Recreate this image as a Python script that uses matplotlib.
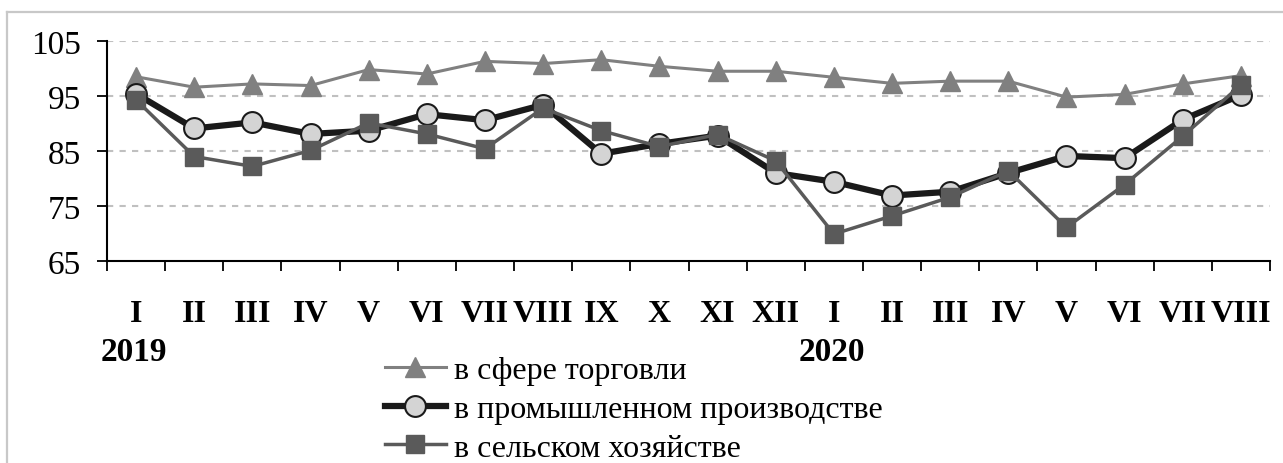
import matplotlib.pyplot as plt
from matplotlib.lines import Line2D

plt.rcParams['font.family'] = ['Liberation Serif', 'DejaVu Serif']

months = ['I', 'II', 'III', 'IV', 'V', 'VI', 'VII', 'VIII', 'IX', 'X', 'XI', 'XII',
          'I', 'II', 'III', 'IV', 'V', 'VI', 'VII', 'VIII']
years = ['2019', '2020']

trade = [98.5, 96.6, 97.2, 96.9, 99.8, 99.0, 101.3, 100.9, 101.6, 100.4, 99.5, 99.5,
         98.4, 97.3, 97.7, 97.7, 94.8, 95.3, 97.2, 98.7]
industry = [95.4, 89.1, 90.2, 88.1, 88.7, 91.7, 90.6, 93.4, 84.5, 86.3, 87.8, 81.0,
            79.4, 76.9, 77.6, 81.0, 84.1, 83.7, 90.7, 95.2]
agriculture = [94.3, 84.0, 82.2, 85.1, 90.1, 88.1, 85.4, 92.8, 88.7, 85.8, 88.0, 83.2,
               69.9, 73.2, 76.6, 81.4, 71.1, 78.9, 87.7, 97.0]

labels = ['в сфере торговли', 'в промышленном производстве', 'в сельском хозяйстве']

W, H = 1283, 464
fig = plt.figure(figsize=(W / 100, H / 100), dpi=100)
ax = fig.add_axes([107 / W, 1 - 262 / H, (1270 - 107) / W, (262 - 42) / H])

x = list(range(len(months)))
ax.plot(x, trade, color='#808080', lw=2.2, marker='^', ms=14,
        mfc='#808080', mec='#808080', zorder=3, label=labels[0])
ax.plot(x, industry, color='#1a1a1a', lw=4.5, marker='o', ms=15,
        mfc='#d4d4d4', mec='#1a1a1a', mew=1.5, zorder=4, label=labels[1])
ax.plot(x, agriculture, color='#5a5a5a', lw=2.5, marker='s', ms=13,
        mfc='#5a5a5a', mec='#5a5a5a', zorder=5, label=labels[2])

ax.set_xlim(-0.5, len(months) - 0.5)
ax.set_ylim(65, 105)
ax.set_yticks([65, 75, 85, 95, 105])
for v in [75, 85, 95, 105]:
    ax.axhline(v, color='#c0c0c0', lw=1.5, dashes=(3, 3), zorder=1)

ax.set_xticks([i - 0.5 for i in range(len(months) + 1)])
ax.set_xticklabels([])
ax.set_xticks(x, minor=True)
ax.set_xticklabels(months, minor=True, fontsize=23, fontweight='bold')
ax.tick_params(axis='x', which='major', direction='out', length=7.5, width=1.3)
ax.tick_params(axis='x', which='minor', length=0, pad=27)
ax.tick_params(axis='y', direction='out', length=7.5, width=1.3, labelsize=24, pad=11)

for s in ['top', 'right']:
    ax.spines[s].set_visible(False)
for s in ['left', 'bottom']:
    ax.spines[s].set_linewidth(1.5)

fig.text(134 / W, 1 - 353 / H, years[0], fontsize=24, fontweight='bold',
         ha='center', va='center')
fig.text(832 / W, 1 - 353 / H, years[1], fontsize=24, fontweight='bold',
         ha='center', va='center')

fig.legend(loc='center left', bbox_to_anchor=(385 / W, 1 - 410 / H),
           frameon=False, fontsize=23, handlelength=1.9, handletextpad=0.25,
           labelspacing=0.3, borderpad=0, borderaxespad=0)

# light frame around the chart
fig.add_artist(Line2D([7 / W, 1], [1 - 13 / H, 1 - 13 / H], color='#c8c8c8', lw=1.6))
fig.add_artist(Line2D([7 / W, 7 / W], [0, 1 - 13 / H], color='#c8c8c8', lw=1.6))

fig.savefig('out.png', dpi=100)
